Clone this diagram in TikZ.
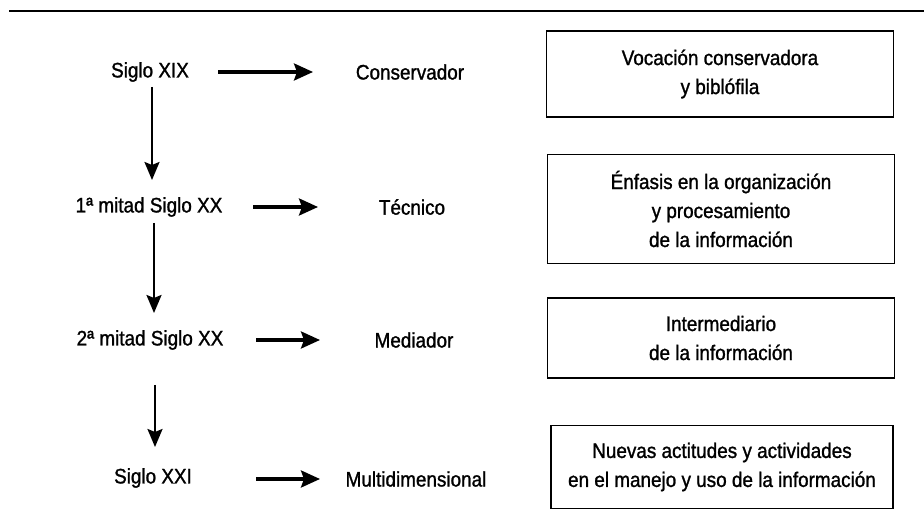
\documentclass[tikz,border=0pt]{standalone}
\usepackage{fontspec}
\setmainfont{Liberation Sans}[FakeStretch=0.9,FakeBold=1.2]
\usetikzlibrary{arrows.meta}
\tikzset{
  lbl/.style={inner sep=1pt, font=\fontsize{21}{29}\selectfont},
  infobox/.style={draw, line width=1.8pt, align=center, inner sep=0pt,
    font=\fontsize{21}{29}\selectfont},
  harrow/.style={line width=3.2pt, -{Stealth[length=19pt,width=17pt,inset=3pt]}},
  varrow/.style={line width=2.2pt, -{Stealth[length=18pt,width=15pt,inset=3pt]}},
}
\begin{document}
\begin{tikzpicture}[x=1pt,y=-1pt]
\useasboundingbox (0,0) rectangle (924,510);
\begin{scope}
\clip (0,0) rectangle (924,510);
% top rule
\coordinate (r1) at (9,11);
\coordinate (r2) at (924,11);
\draw[line width=2pt] (r1) -- (r2);

% left column
\node[lbl] (s19) at (150,72) {Siglo XIX};
\node[lbl] (m1) at (149,207) {1ª mitad Siglo XX};
\node[lbl] (m2) at (150,340) {2ª mitad Siglo XX};
\node[lbl] (s21) at (153,478) {Siglo XXI};

% middle column
\node[lbl] (c) at (410,72) {Conservador};
\node[lbl] (t) at (412,207) {Técnico};
\node[lbl] (me) at (414,340) {Mediador};
\node[lbl] (mu) at (416,479) {Multidimensional};

% boxes
\node[infobox, minimum width=347pt, minimum height=86pt] (b1) at (720,74)
  {Vocación conservadora\\y biblófila};
\node[infobox, minimum width=347pt, minimum height=109pt] (b2) at (721,209)
  {Énfasis en la organización\\y procesamiento\\de la información};
\node[infobox, minimum width=347pt, minimum height=80pt] (b3) at (721,338)
  {Intermediario\\de la información};
\node[infobox, minimum width=342pt, minimum height=83pt] (b4) at (722,467)
  {Nuevas actitudes y actividades\\en el manejo y uso de la información};

% horizontal arrows
\coordinate (h1s) at (218,72);  \coordinate (h1e) at (313,72);
\coordinate (h2s) at (253,207); \coordinate (h2e) at (318,207);
\coordinate (h3s) at (256,340); \coordinate (h3e) at (320,340);
\coordinate (h4s) at (256,479); \coordinate (h4e) at (320,479);
\draw[harrow] (h1s) -- (h1e);
\draw[harrow] (h2s) -- (h2e);
\draw[harrow] (h3s) -- (h3e);
\draw[harrow] (h4s) -- (h4e);

% vertical arrows
\coordinate (v1s) at (152,87);  \coordinate (v1e) at (152,180);
\coordinate (v2s) at (154,223); \coordinate (v2e) at (154,313);
\coordinate (v3s) at (155,385); \coordinate (v3e) at (155,447);
\draw[varrow] (v1s) -- (v1e);
\draw[varrow] (v2s) -- (v2e);
\draw[varrow] (v3s) -- (v3e);
\end{scope}
\end{tikzpicture}
\end{document}
